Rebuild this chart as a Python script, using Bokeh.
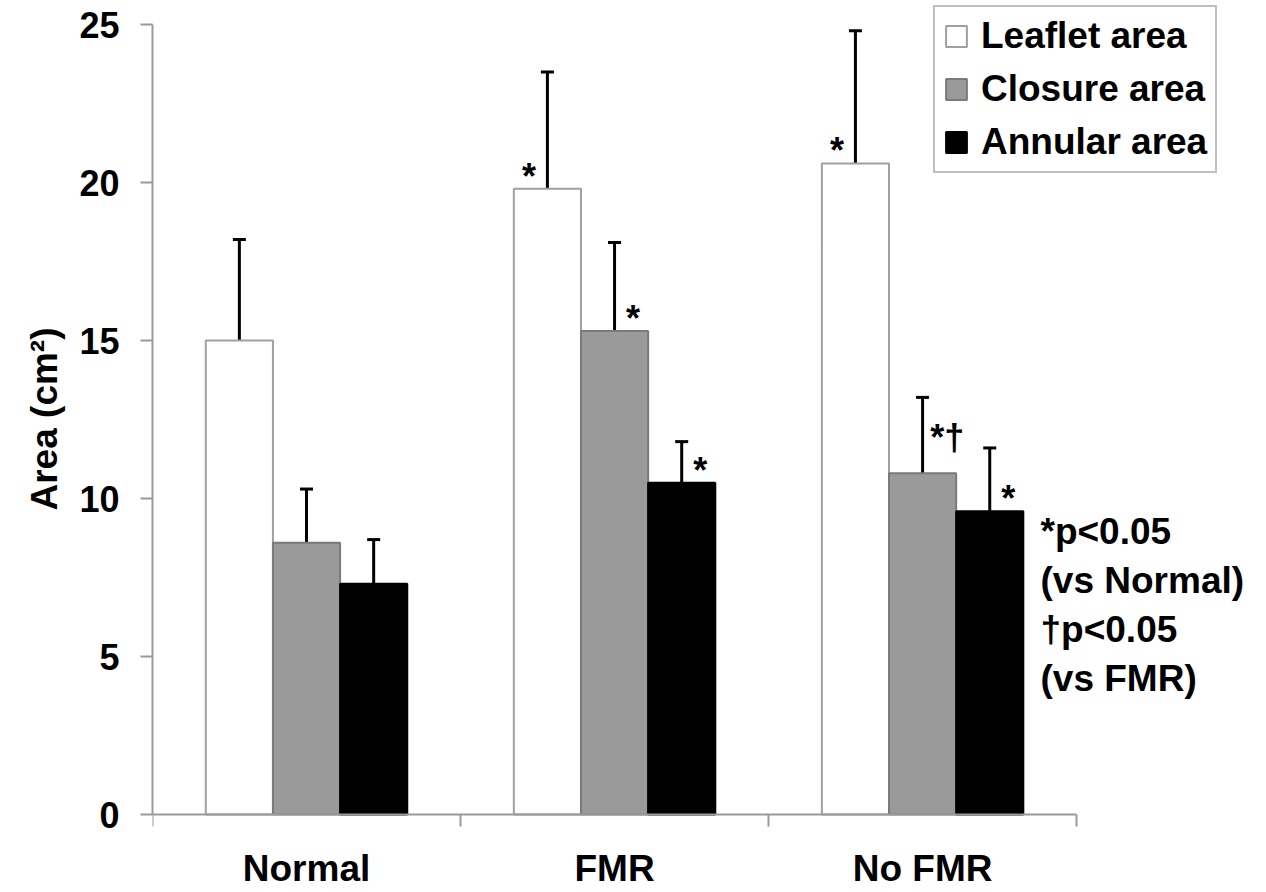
from bokeh.plotting import figure
from bokeh.models import (ColumnDataSource, FixedTicker, Whisker, TeeHead, Legend,
                          LegendItem, Label, Title)
from bokeh.core.properties import value
from bokeh.embed import file_html
from bokeh.resources import INLINE

# ---- data ----
categories = ["Normal", "FMR", "No FMR"]
series = ["Leaflet area", "Closure area", "Annular area"]
leaflet = [15.0, 19.8, 20.6]
leaflet_sd = [3.2, 3.7, 4.2]
closure = [8.6, 15.3, 10.8]
closure_sd = [1.7, 2.8, 2.4]
annular = [7.3, 10.5, 9.6]
annular_sd = [1.4, 1.3, 2.0]
y_ticks = [0, 5, 10, 15, 20, 25]
# significance marks: (category, series index, text)
sig_marks = [("FMR", 0, "*"), ("FMR", 1, "*"), ("FMR", 2, "*"),
             ("No FMR", 0, "*"), ("No FMR", 1, "*\u2020"), ("No FMR", 2, "*")]
note_lines = ["*p<0.05", "(vs Normal)", "\u2020p<0.05", "(vs FMR)"]
y_title = "Area (cm\u00b2)"

FNAME = "Liberation Sans"
FONT = value(FNAME)
W = 0.218
offsets = [-W, 0.0, W]
fills = ["white", "#9a9a9a", "black"]
lines = ["#a0a0a0", "#7a7a7a", "black"]
values = [leaflet, closure, annular]
sds = [leaflet_sd, closure_sd, annular_sd]

p = figure(width=1260, height=892, x_range=(0, 3.597), y_range=(-2.468, 25.76),
           output_backend="svg", toolbar_location=None,
           min_border_left=152, min_border_right=0, min_border_top=0,
           min_border_bottom=0)
p.outline_line_color = None
p.grid.visible = False
p.background_fill_color = "white"

renderers = []
for k in range(3):
    xs = [i + 0.5 + offsets[k] for i in range(len(categories))]
    src = ColumnDataSource(dict(x=xs, top=values[k],
                                err=[v + s for v, s in zip(values[k], sds[k])]))
    r = p.vbar(x="x", top="top", bottom=0, width=W, source=src,
               fill_color=fills[k], line_color=lines[k], line_width=2)
    renderers.append(r)
    wh = Whisker(source=src, base="x", lower="top", upper="err", dimension="height",
                 line_color="black", line_width=3,
                 upper_head=TeeHead(size=13, line_width=3, line_color="black"),
                 lower_head=None)
    p.add_layout(wh)

# significance marks
cx, cy, ct = [], [], []
lx, ly, lt = [], [], []
for cat, k, txt in sig_marks:
    i = categories.index(cat)
    xb = i + 0.5 + offsets[k]
    top = values[k][i]
    if len(txt) > 1:
        lx.append(xb + 0.025); ly.append(top + 1.12); lt.append(txt)
    else:
        dx = -0.06 if k == 0 else 0.06
        cx.append(xb + dx); cy.append(top + 0.4); ct.append(txt)
p.text(x=cx, y=cy, text=ct, text_font=FONT, text_font_style="bold",
       text_font_size="36px", text_align="center", text_baseline="alphabetic",
       text_color="black")
p.text(x=lx, y=ly, text=lt, text_font=FONT, text_font_style="bold",
       text_font_size="36px", text_align="left", text_baseline="alphabetic",
       text_color="black")

# category labels below the x axis
p.text(x=[i + 0.5 for i in range(len(categories))], y=[-1.72] * len(categories),
       text=categories, text_font=FONT, text_font_style="bold",
       text_font_size="37px", text_align="center", text_baseline="alphabetic",
       text_color="black")

# note text
for j, line in enumerate(note_lines):
    p.add_layout(Label(x=888, y=283 - j * 49 + 78, x_units="screen", y_units="screen",
                       text=line, text_font=FNAME, text_font_style="bold",
                       text_font_size="37px", text_color="black",
                       text_baseline="alphabetic", text_align="left"))

# axes
xa = p.xaxis[0]
xa.fixed_location = 0
xa.ticker = FixedTicker(ticks=[], minor_ticks=list(range(len(categories) + 1)))
xa.bounds = (0, 3)
xa.axis_line_color = "#9a9a9a"
xa.axis_line_width = 2
xa.major_tick_line_color = None
xa.major_tick_out = 0
xa.major_tick_in = 0
xa.minor_tick_line_color = "#9a9a9a"
xa.minor_tick_line_width = 2
xa.minor_tick_out = 12
xa.minor_tick_in = 0
xa.major_label_standoff = 0

ya = p.yaxis[0]
ya.ticker = FixedTicker(ticks=y_ticks, minor_ticks=[])
ya.bounds = (0, 25)
ya.axis_line_color = "#9a9a9a"
ya.axis_line_width = 2
ya.major_tick_line_color = "#9a9a9a"
ya.major_tick_line_width = 2
ya.major_tick_out = 12
ya.major_tick_in = 0
ya.minor_tick_line_color = None
ya.major_label_standoff = 21
ya.major_label_text_font = FNAME
ya.major_label_text_font_style = "bold"
ya.major_label_text_font_size = "36px"
ya.major_label_text_color = "black"

# y-axis title, positioned along the axis
p.add_layout(Title(text=y_title, align="right", offset=327, standoff=24,
                   text_font=FNAME, text_font_style="bold", text_font_size="37px",
                   text_color="black"), "left")

legend = Legend(items=[LegendItem(label=series[k], renderers=[renderers[k]]) for k in range(3)],
                location=(781, 641 + 78), orientation="vertical",
                label_text_font=FNAME, label_text_font_style="bold",
                label_text_font_size="37px", label_text_color="black",
                glyph_width=26, glyph_height=26, label_height=42, label_standoff=12,
                spacing=11, padding=8, margin=0,
                border_line_color="#808080", border_line_width=2,
                background_fill_color="white", background_fill_alpha=1.0)
p.add_layout(legend, "center")

open("out.html", "w").write(file_html(p, INLINE))
